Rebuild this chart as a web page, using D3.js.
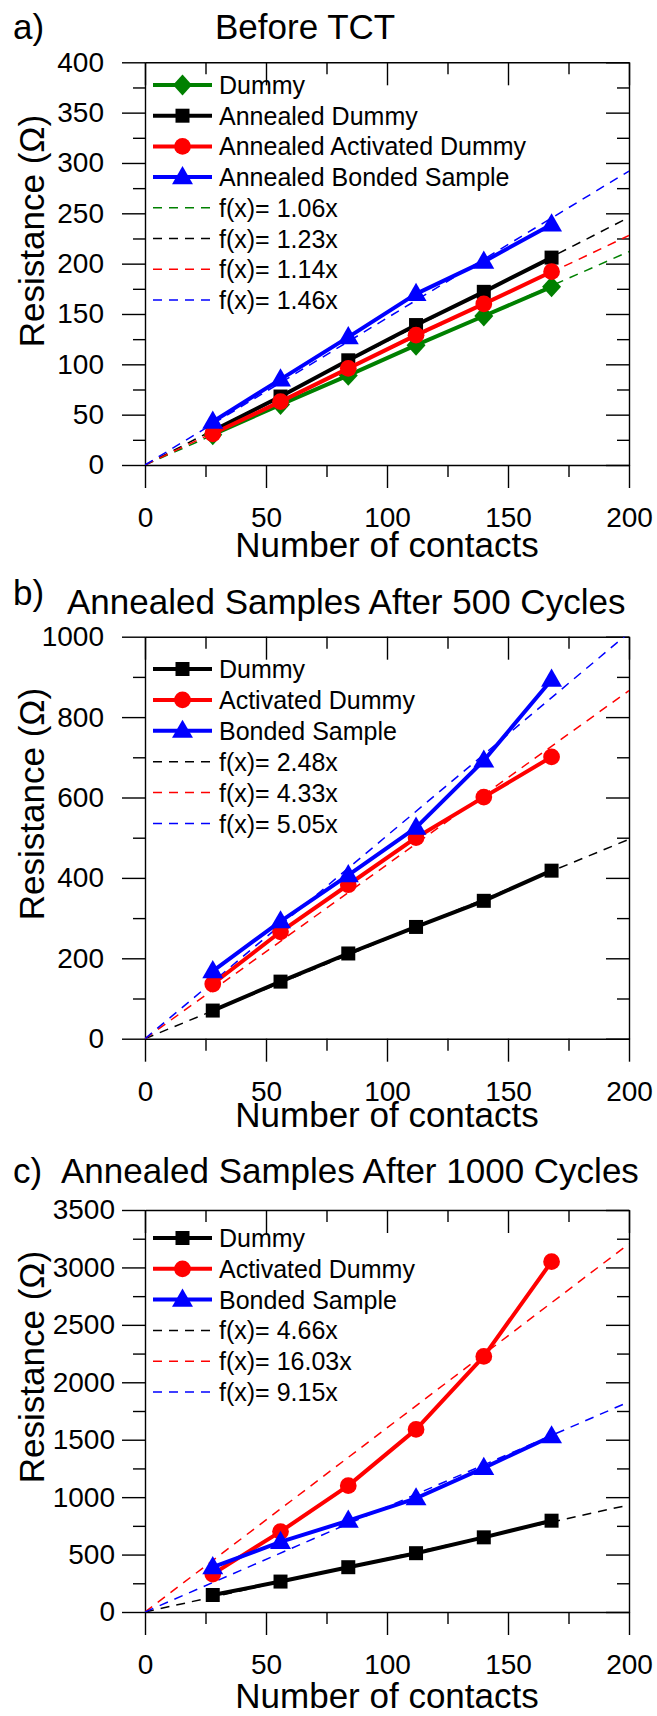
<!DOCTYPE html>
<html>
<head>
<meta charset="utf-8">
<script src="https://cdn.jsdelivr.net/npm/d3@7"></script>
<style>
body { margin: 0; background: #fff; }
svg text { font-family: "Liberation Sans", Arial, sans-serif; fill: #000; }
</style>
</head>
<body>
<svg id="chart" width="657" height="1716"></svg>
<script>
// shared x values
var contacts = [28, 56, 84, 112, 140, 168];
var xTicks = [0, 50, 100, 150, 200];
var xMinor = [25, 75, 125, 175];

// a) Before TCT
var aNames = ["Dummy", "Annealed Dummy", "Annealed Activated Dummy", "Annealed Bonded Sample"];
var aDummy = [30, 60, 89, 119, 148, 177];
var aAnnDummy = [34, 68, 104, 139, 172, 206];
var aAnnActivated = [31, 63, 96, 129, 160, 192];
var aAnnBonded = [43, 85, 127, 170, 202, 239];
var aSlopes = [1.06, 1.23, 1.14, 1.46];
var aYTicks = [0, 50, 100, 150, 200, 250, 300, 350, 400];

// b) after 500 cycles
var bNames = ["Dummy", "Activated Dummy", "Bonded Sample"];
var bDummy = [70, 142, 212, 278, 343, 418];
var bActivated = [136, 266, 383, 500, 601, 701];
var bBonded = [168, 292, 407, 525, 692, 893];
var bSlopes = [2.48, 4.33, 5.05];
var bYTicks = [0, 200, 400, 600, 800, 1000];

// c) after 1000 cycles
var cNames = ["Dummy", "Activated Dummy", "Bonded Sample"];
var cDummy = [148, 265, 390, 512, 650, 795];
var cActivated = [330, 700, 1100, 1590, 2225, 3050];
var cBonded = [390, 610, 795, 990, 1255, 1530];
var cSlopes = [4.66, 16.03, 9.15];
var cYTicks = [0, 500, 1000, 1500, 2000, 2500, 3000, 3500];

var GREEN = "#008000", BLACK = "#000000", RED = "#ff0000", BLUE = "#0000ff";

var panels = [
    {
        id: "a", letter: "a)", letterY: 38.5, title: "Before TCT", titleX: 215, titleY: 38.5,
        top: 62.3, bottom: 465, yMax: 400, yTicks: aYTicks, yMinorStep: 25, labelPad: 18,
        yTitleY: 231, xTitleY: 557, legendY: 85, legendStep: 30.7,
        series: [
            { name: aNames[0], values: aDummy, color: GREEN, symbol: "diamond" },
            { name: aNames[1], values: aAnnDummy, color: BLACK, symbol: "square" },
            { name: aNames[2], values: aAnnActivated, color: RED, symbol: "circle" },
            { name: aNames[3], values: aAnnBonded, color: BLUE, symbol: "triangle" }
        ],
        fits: [
            { slope: aSlopes[0], color: GREEN },
            { slope: aSlopes[1], color: BLACK },
            { slope: aSlopes[2], color: RED },
            { slope: aSlopes[3], color: BLUE }
        ]
    },
    {
        id: "b", letter: "b)", letterY: 605, title: "Annealed Samples After 500 Cycles", titleX: 67, titleY: 613.5,
        top: 636.7, bottom: 1038.7, yMax: 1000, yTicks: bYTicks, yMinorStep: 100, labelPad: 18,
        yTitleY: 804, xTitleY: 1127, legendY: 669, legendStep: 30.9,
        series: [
            { name: bNames[0], values: bDummy, color: BLACK, symbol: "square" },
            { name: bNames[1], values: bActivated, color: RED, symbol: "circle" },
            { name: bNames[2], values: bBonded, color: BLUE, symbol: "triangle" }
        ],
        fits: [
            { slope: bSlopes[0], color: BLACK },
            { slope: bSlopes[1], color: RED },
            { slope: bSlopes[2], color: BLUE }
        ]
    },
    {
        id: "c", letter: "c)", letterY: 1183, title: "Annealed Samples After 1000 Cycles", titleX: 61, titleY: 1183,
        top: 1210, bottom: 1612, yMax: 3500, yTicks: cYTicks, yMinorStep: 250, labelPad: 7,
        yTitleY: 1367, xTitleY: 1708, legendY: 1238, legendStep: 30.8,
        series: [
            { name: cNames[0], values: cDummy, color: BLACK, symbol: "square" },
            { name: cNames[1], values: cActivated, color: RED, symbol: "circle" },
            { name: cNames[2], values: cBonded, color: BLUE, symbol: "triangle" }
        ],
        fits: [
            { slope: cSlopes[0], color: BLACK },
            { slope: cSlopes[1], color: RED },
            { slope: cSlopes[2], color: BLUE }
        ]
    }
];

var left = 145, right = 629;
var svg = d3.select("#chart");
var plain = d3.format("d");

function marker(g, type, color, x, y) {
    var m;
    if (type === "square") {
        m = g.append("path").attr("d", d3.symbol(d3.symbolSquare, 196)());
    } else if (type === "circle") {
        m = g.append("path").attr("d", d3.symbol(d3.symbolCircle, 220)());
    } else if (type === "triangle") {
        m = g.append("path").attr("d", d3.symbol(d3.symbolTriangle, 190)());
    } else {
        m = g.append("path").attr("d", d3.symbol(d3.symbolSquare, 180)());
    }
    var t = "translate(" + x + "," + y + ")";
    if (type === "diamond") t += " scale(1,1.1) rotate(45)";
    if (type === "triangle") t += " translate(0,1)";
    m.attr("transform", t).attr("fill", color);
}

function styleAxis(g, fontSize) {
    g.attr("font-family", "Liberation Sans, Arial, sans-serif").attr("font-size", fontSize);
    g.selectAll("line").attr("stroke", "#000").attr("stroke-width", 1.4);
    g.selectAll("path.domain").attr("stroke", "#000").attr("stroke-width", 1.4);
}

panels.forEach(function (p) {
    var x = d3.scaleLinear().domain([0, 200]).range([left, right]);
    var y = d3.scaleLinear().domain([0, p.yMax]).range([p.bottom, p.top]);
    var yMinor = d3.range(p.yMinorStep, p.yMax, p.yMinorStep * 2);

    var g = svg.append("g").attr("class", "panel-" + p.id);

    // clip for the fit lines
    g.append("clipPath").attr("id", "clip-" + p.id)
        .append("rect").attr("x", left).attr("y", p.top)
        .attr("width", right - left).attr("height", p.bottom - p.top);

    // bottom axis with labels
    var bx = g.append("g").attr("transform", "translate(0," + p.bottom + ")")
        .call(d3.axisBottom(x).tickValues(xTicks).tickFormat(plain)
            .tickSize(23).tickSizeOuter(0).tickPadding(19));
    styleAxis(bx, 28);
    var bxm = g.append("g").attr("transform", "translate(0," + p.bottom + ")")
        .call(d3.axisBottom(x).tickValues(xMinor).tickSize(12).tickFormat(""));
    styleAxis(bxm, 28);
    bxm.select(".domain").remove();

    // top axis, ticks inward
    var tx = g.append("g").attr("transform", "translate(0," + p.top + ")")
        .call(d3.axisTop(x).tickValues(xTicks).tickSize(-23).tickSizeOuter(0).tickFormat(""));
    styleAxis(tx, 28);
    var txm = g.append("g").attr("transform", "translate(0," + p.top + ")")
        .call(d3.axisTop(x).tickValues(xMinor).tickSize(-12).tickFormat(""));
    styleAxis(txm, 28);
    txm.select(".domain").remove();

    // left axis with labels
    var ly = g.append("g").attr("transform", "translate(" + left + ",0)")
        .call(d3.axisLeft(y).tickValues(p.yTicks).tickFormat(plain)
            .tickSize(23).tickSizeOuter(0).tickPadding(p.labelPad));
    styleAxis(ly, 28);
    var lym = g.append("g").attr("transform", "translate(" + left + ",0)")
        .call(d3.axisLeft(y).tickValues(yMinor).tickSize(12).tickFormat(""));
    styleAxis(lym, 28);
    lym.select(".domain").remove();

    // right axis, ticks inward
    var ry = g.append("g").attr("transform", "translate(" + right + ",0)")
        .call(d3.axisRight(y).tickValues(p.yTicks).tickSize(-23).tickSizeOuter(0).tickFormat(""));
    styleAxis(ry, 28);
    var rym = g.append("g").attr("transform", "translate(" + right + ",0)")
        .call(d3.axisRight(y).tickValues(yMinor).tickSize(-12).tickFormat(""));
    styleAxis(rym, 28);
    rym.select(".domain").remove();

    // fit lines f(x) = k x
    var fitLine = d3.line().x(function (d) { return x(d[0]); }).y(function (d) { return y(d[1]); });
    p.fits.forEach(function (f) {
        g.append("path")
            .attr("clip-path", "url(#clip-" + p.id + ")")
            .attr("d", fitLine([[0, 0], [200, f.slope * 200]]))
            .attr("fill", "none").attr("stroke", f.color)
            .attr("stroke-width", 1.5).attr("stroke-dasharray", "9,7");
    });

    // data series
    var line = d3.line().x(function (d, i) { return x(contacts[i]); }).y(function (d) { return y(d); });
    p.series.forEach(function (s) {
        g.append("path").attr("d", line(s.values))
            .attr("fill", "none").attr("stroke", s.color).attr("stroke-width", 4)
            .attr("stroke-linejoin", "round");
        s.values.forEach(function (v, i) {
            marker(g, s.symbol, s.color, x(contacts[i]), y(v));
        });
    });

    // legend
    var rowY = p.legendY;
    p.series.forEach(function (s) {
        g.append("line").attr("x1", 153).attr("x2", 212).attr("y1", rowY).attr("y2", rowY)
            .attr("stroke", s.color).attr("stroke-width", 4);
        marker(g, s.symbol, s.color, 182.5, rowY);
        g.append("text").attr("x", 219).attr("y", rowY + 9).attr("font-size", 25).text(s.name);
        rowY += p.legendStep;
    });
    p.fits.forEach(function (f) {
        g.append("line").attr("x1", 153).attr("x2", 212).attr("y1", rowY).attr("y2", rowY)
            .attr("stroke", f.color).attr("stroke-width", 1.5).attr("stroke-dasharray", "9,7");
        g.append("text").attr("x", 219).attr("y", rowY + 9).attr("font-size", 25)
            .text("f(x)= " + f.slope.toFixed(2) + "x");
        rowY += p.legendStep;
    });

    // titles
    g.append("text").attr("x", 13).attr("y", p.letterY).attr("font-size", 35).text(p.letter);
    g.append("text").attr("x", p.titleX).attr("y", p.titleY).attr("font-size", 35).text(p.title);
    g.append("text").attr("x", (left + right) / 2).attr("y", p.xTitleY)
        .attr("text-anchor", "middle").attr("font-size", 35).text("Number of contacts");
    g.append("text").attr("transform", "translate(44," + p.yTitleY + ") rotate(-90)")
        .attr("text-anchor", "middle").attr("font-size", 35).text("Resistance (\u03A9)");
});
</script>
</body>
</html>
